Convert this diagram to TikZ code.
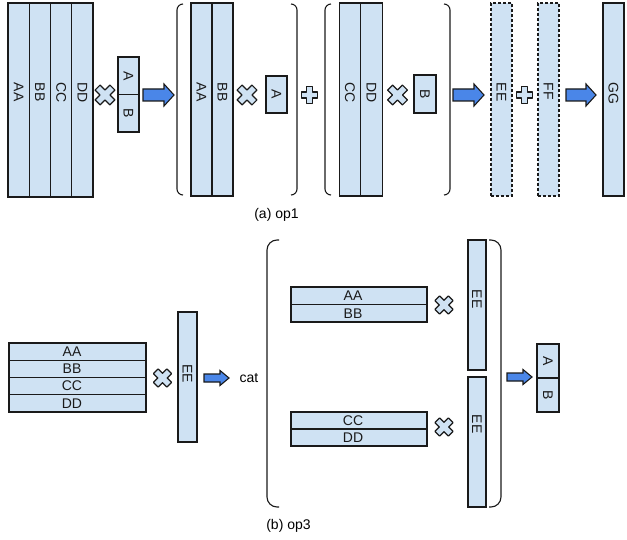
\documentclass[tikz,border=0pt]{standalone}
\usepackage{fontspec}
\setmainfont{Liberation Sans}
\definecolor{lb}{HTML}{CFE2F3}
\definecolor{ab}{HTML}{4A86E8}
\definecolor{ln}{HTML}{1A1A1A}
\begin{document}
\begin{tikzpicture}[x=1pt,y=-1pt,
  box/.style={draw=ln, fill=lb, line width=1.2pt, inner sep=0pt},
  tall/.style={box, minimum width=21.25pt, minimum height=194pt},
  dtall/.style={tall, dash pattern=on 3pt off 2pt},
  hrow/.style={box, minimum width=137pt, minimum height=17.25pt},
  lbl/.style={inner sep=0pt, font=\fontsize{14}{16}\selectfont, text=ln},
  vlbl/.style={lbl, rotate=-90, anchor=west},
  vtxt/.style={lbl, rotate=-90},
  sym/.style={draw=ln, fill=lb, line width=1.2pt, line join=round},
  arr/.style={draw=ln, fill=ab, line width=1.1pt, line join=miter},
  brk/.style={draw=ln, line width=1.1pt, rounded corners=6pt},
  bigbrk/.style={draw=ln, line width=1.1pt, rounded corners=10pt},
  pics/xmark/.style 2 args={code={\path[sym, rotate=45] (#2,#1) -- (#2,#2) -- (#1,#2) -- (#1,-#2) -- (#2,-#2) -- (#2,-#1) -- (-#2,-#1) -- (-#2,-#2) -- (-#1,-#2) -- (-#1,#2) -- (-#2,#2) -- (-#2,#1) -- cycle;}},
  pics/pmark/.style 2 args={code={\path[sym] (#2,#1) -- (#2,#2) -- (#1,#2) -- (#1,-#2) -- (#2,-#2) -- (#2,-#1) -- (-#2,-#1) -- (-#2,-#2) -- (-#1,-#2) -- (-#1,#2) -- (-#2,#2) -- (-#2,#1) -- cycle;}},
  pics/barrow/.style n args={4}{code={\path[arr] (0,-#3) -- ({#1-#2},-#3) -- ({#1-#2},-#4) -- (#1,0) -- ({#1-#2},#4) -- ({#1-#2},#3) -- (0,#3) -- cycle;}}
]
\useasboundingbox (0,0) rectangle (627,540);

% ---------- (a) op1 ----------
\node[tall] (AA) at (18.6,100) {};
\node[tall] (BB) at (39.9,100) {};
\node[tall] (CC) at (61.1,100) {};
\node[tall] (DD) at (82.4,100) {};
\node[vlbl] (lAA) at (18.6,82.5) {AA};
\node[vlbl] (lBB) at (39.9,82.5) {BB};
\node[vlbl] (lCC) at (61.1,82.5) {CC};
\node[vlbl] (lDD) at (82.4,82.5) {DD};
\pic at (105,95) {xmark={10.5}{3.6}};
\node[box, minimum width=21pt, minimum height=37.5pt] (A1) at (128.5,75.75) {};
\node[box, minimum width=21pt, minimum height=37.5pt] (B1) at (128.5,113.25) {};
\node[vtxt] (lA1) at (A1) {A};
\node[vtxt] (lB1) at (B1) {B};
\pic at (143,95) {barrow={31}{10}{6}{11}};

\draw[brk] (183,4) -- (177,4) -- (177,195) -- (183,195);
\node[box, minimum width=21pt, minimum height=193pt] (AA2) at (201.5,99.5) {};
\node[box, minimum width=21pt, minimum height=193pt] (BB2) at (222.5,99.5) {};
\node[vlbl] (lAA2) at (201.5,82.5) {AA};
\node[vlbl] (lBB2) at (222.5,82.5) {BB};
\pic at (247,95) {xmark={10.5}{3.6}};
\node[box, minimum width=21pt, minimum height=37pt] (A2) at (276.5,94.5) {};
\node[vtxt] (lA2) at (A2) {A};
\draw[brk] (291,4) -- (297,4) -- (297,195) -- (291,195);

\pic at (309.5,95) {pmark={8.3}{3}};

\draw[brk] (331,4) -- (325,4) -- (325,195) -- (331,195);
\node[box, minimum width=21.5pt, minimum height=193pt] (CC2) at (350,99.5) {};
\node[box, minimum width=21.5pt, minimum height=193pt] (DD2) at (371.5,99.5) {};
\node[vlbl] (lCC2) at (350,82.5) {CC};
\node[vlbl] (lDD2) at (371.5,82.5) {DD};
\pic at (397.5,95) {xmark={10.5}{3.6}};
\node[box, minimum width=22pt, minimum height=38pt] (B2) at (425,94) {};
\node[vtxt] (lB2) at (B2) {B};
\draw[brk] (444,4) -- (450,4) -- (450,195) -- (444,195);

\pic at (453,95) {barrow={31}{10}{6}{11}};
\node[dtall, minimum width=21pt, minimum height=193pt] (EE) at (501.5,99.5) {};
\node[vlbl] (lEE) at (501.5,82.5) {EE};
\pic at (524.5,95) {pmark={8.3}{3}};
\node[dtall, minimum width=21pt, minimum height=193pt] (FF) at (548.5,99.5) {};
\node[vlbl] (lFF) at (548.5,82.5) {FF};
\pic at (566,95) {barrow={30}{10}{6}{11}};
\node[box, minimum width=21pt, minimum height=193pt] (GG) at (613.5,99.5) {};
\node[vlbl] (lGG) at (613.5,82.5) {GG};

\node[lbl, text=black] (capa) at (276.5,215) {(a) op1};

% ---------- (b) op3 ----------
\node[hrow] (r1) at (77.5,351.6) {};
\node[hrow] (r2) at (77.5,368.9) {};
\node[hrow] (r3) at (77.5,386.1) {};
\node[hrow] (r4) at (77.5,403.4) {};
\node[lbl] (lr1) at (72,351.6) {AA};
\node[lbl] (lr2) at (72,368.9) {BB};
\node[lbl] (lr3) at (72,386.1) {CC};
\node[lbl] (lr4) at (72,403.4) {DD};
\pic at (162.5,378) {xmark={9.5}{3.3}};
\node[box, minimum width=19pt, minimum height=130pt] (EE3) at (187.5,377) {};
\node[vtxt] (lEE3) at (187.5,374) {EE};
\pic at (204,378) {barrow={25}{9}{4}{7.5}};
\node[lbl, text=black] (cat) at (249,378) {cat};

\draw[bigbrk] (279,240) -- (267,240) -- (267,507) -- (279,507);
\node[hrow, minimum width=136pt, minimum height=17.5pt] (s1) at (359,295.75) {};
\node[hrow, minimum width=136pt, minimum height=17.5pt] (s2) at (359,313.25) {};
\node[lbl] (ls1) at (353,295.75) {AA};
\node[lbl] (ls2) at (353,313.25) {BB};
\pic at (444,305) {xmark={9.5}{3.3}};
\node[box, minimum width=18pt, minimum height=130pt] (EE4) at (477,305) {};
\node[vtxt] (lEE4) at (477,299) {EE};

\node[hrow, minimum width=136pt, minimum height=17pt] (s3) at (359,420.5) {};
\node[hrow, minimum width=136pt, minimum height=17pt] (s4) at (359,437.5) {};
\node[lbl] (ls3) at (353,420.5) {CC};
\node[lbl] (ls4) at (353,437.5) {DD};
\pic at (444,427) {xmark={9.5}{3.3}};
\node[box, minimum width=18pt, minimum height=130pt] (EE5) at (477,442) {};
\node[vtxt] (lEE5) at (477,424) {EE};
\draw[bigbrk] (489,240) -- (501,240) -- (501,507) -- (489,507);

\pic at (507,377) {barrow={25}{9}{4}{7.5}};
\node[box, minimum width=22pt, minimum height=34pt] (A3) at (548,361) {};
\node[box, minimum width=22pt, minimum height=34pt] (B3) at (548,395) {};
\node[vtxt] (lA3) at (A3) {A};
\node[vtxt] (lB3) at (B3) {B};

\node[lbl, text=black] (capb) at (288.5,526) {(b) op3};
\end{tikzpicture}
\end{document}
